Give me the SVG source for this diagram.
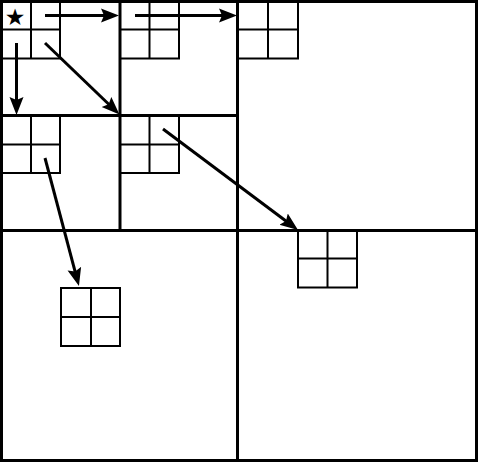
<svg xmlns="http://www.w3.org/2000/svg" width="478" height="462" viewBox="0 0 478 462">
<style>
.thick{stroke:#000;stroke-width:3;fill:none}
.thin{stroke:#000;stroke-width:2;fill:none}
.arr{stroke:#000;stroke-width:3;fill:none;marker-end:url(#ah)}
.star{font-family:"DejaVu Sans",sans-serif;font-size:23px;fill:#000}
</style>
<defs>
<marker id="ah" markerUnits="userSpaceOnUse" markerWidth="20" markerHeight="16" refX="10" refY="7" orient="auto" viewBox="0 0 20 14">
<path d="M0,0 L18,7 L0,14 L3,7 z" fill="#000"/>
</marker>
</defs>
<rect width="478" height="462" fill="#fff"/>
<g id="frame">
<rect class="thick" x="1.5" y="1.5" width="475" height="459"/>
<line class="thick" x1="120" y1="0" x2="120" y2="231"/>
<line class="thick" x1="237.5" y1="0" x2="237.5" y2="462"/>
<line class="thick" x1="0" y1="115.5" x2="237.5" y2="115.5"/>
<line class="thick" x1="0" y1="230.5" x2="478" y2="230.5"/>
</g>
<g id="g1">
<rect class="thin" x="1" y="1" width="59" height="57.5"/>
<line class="thin" x1="31" y1="1" x2="31" y2="58.5"/>
<line class="thin" x1="1" y1="29.5" x2="60" y2="29.5"/>
<text class="star" x="15" y="25" text-anchor="middle">★</text>
</g>
<g id="g2">
<rect class="thin" x="120" y="1" width="59" height="57.5"/>
<line class="thin" x1="149.5" y1="1" x2="149.5" y2="58.5"/>
<line class="thin" x1="120" y1="29.5" x2="179" y2="29.5"/>
</g>
<g id="g3">
<rect class="thin" x="238" y="1" width="60" height="57.5"/>
<line class="thin" x1="268" y1="1" x2="268" y2="58.5"/>
<line class="thin" x1="238" y1="29.5" x2="298" y2="29.5"/>
</g>
<g id="g4">
<rect class="thin" x="1" y="116" width="59" height="57"/>
<line class="thin" x1="31" y1="116" x2="31" y2="173"/>
<line class="thin" x1="1" y1="144.5" x2="60" y2="144.5"/>
</g>
<g id="g5">
<rect class="thin" x="120" y="116" width="59" height="57"/>
<line class="thin" x1="149.5" y1="116" x2="149.5" y2="173"/>
<line class="thin" x1="120" y1="144.5" x2="179" y2="144.5"/>
</g>
<g id="g6">
<rect class="thin" x="298" y="231" width="59" height="56.5"/>
<line class="thin" x1="327.5" y1="231" x2="327.5" y2="287.5"/>
<line class="thin" x1="298" y1="258.5" x2="357" y2="258.5"/>
</g>
<g id="g7">
<rect class="thin" x="61" y="288" width="59" height="58"/>
<line class="thin" x1="91" y1="288" x2="91" y2="346"/>
<line class="thin" x1="61" y1="317" x2="120" y2="317"/>
</g>
<g id="connectors">
<line class="arr" x1="45" y1="15.5" x2="111" y2="15.5"/>
<line class="arr" x1="135" y1="15.5" x2="229" y2="15.5"/>
<line class="arr" x1="16.5" y1="43" x2="16.5" y2="107"/>
<line class="arr" x1="45" y1="43" x2="113.7" y2="109"/>
<line class="arr" x1="163" y1="129" x2="291.6" y2="225.2"/>
<line class="arr" x1="45" y1="158" x2="76.9" y2="278.3"/>
</g>
</svg>
